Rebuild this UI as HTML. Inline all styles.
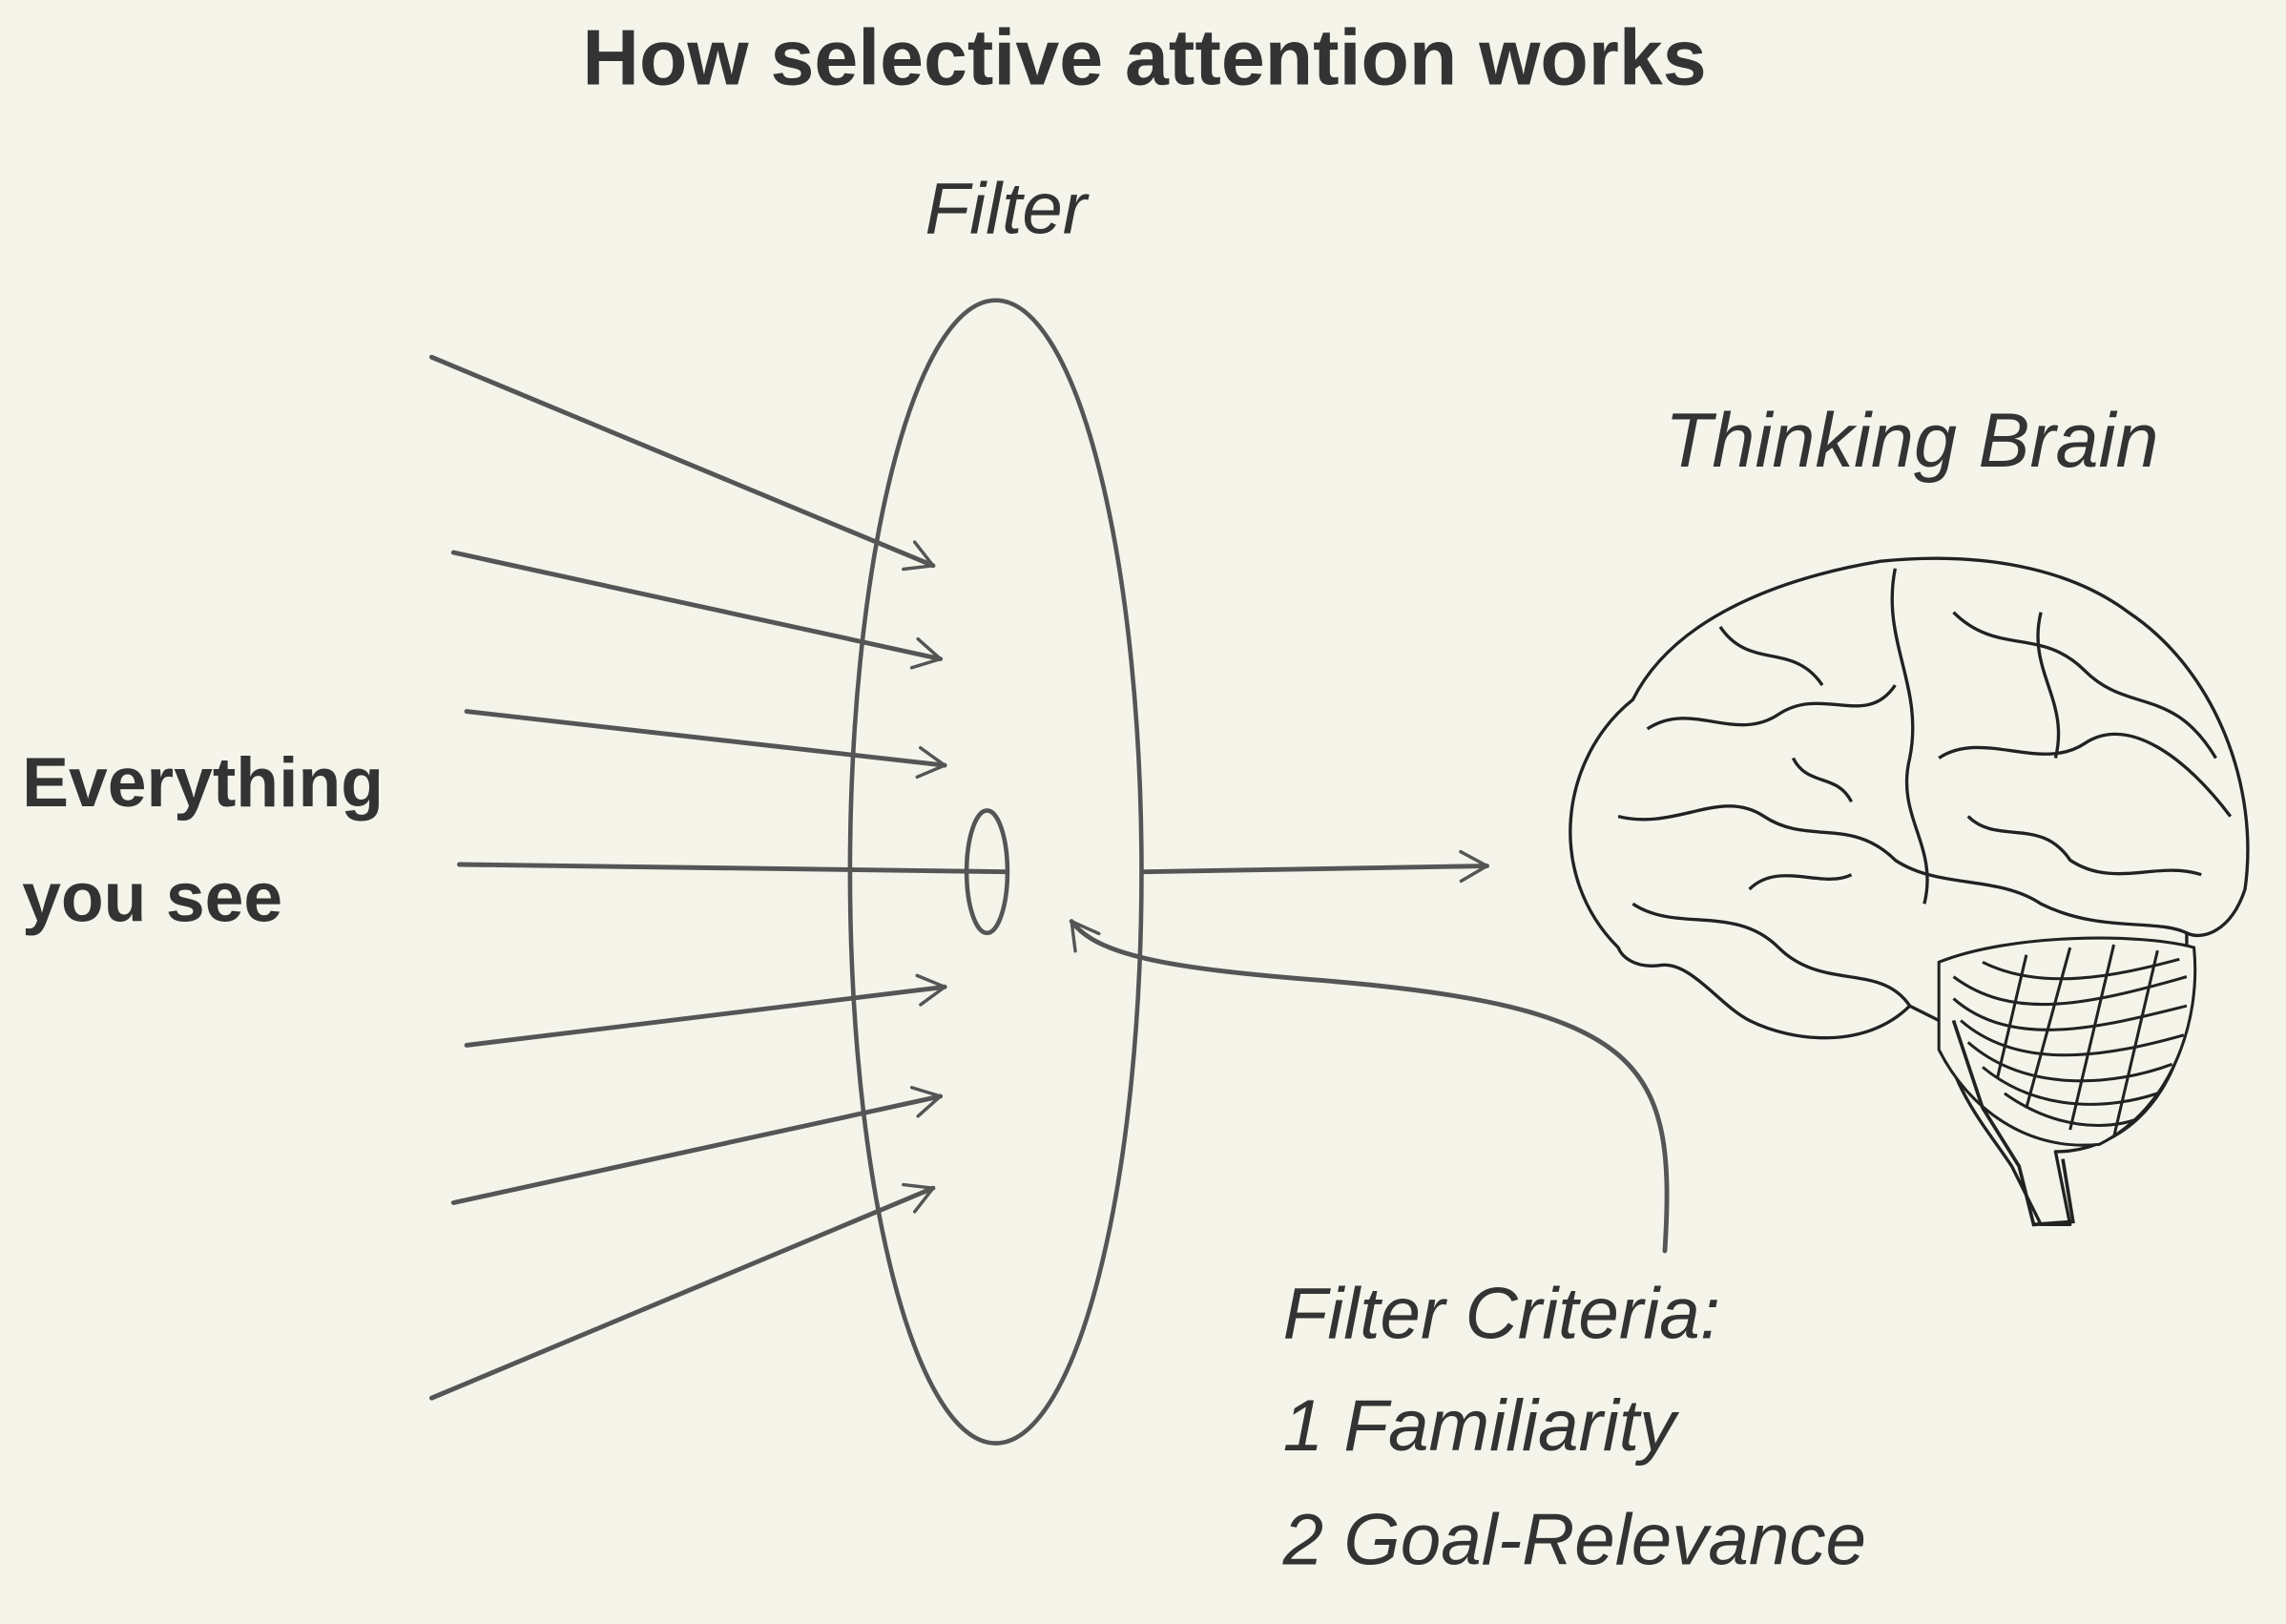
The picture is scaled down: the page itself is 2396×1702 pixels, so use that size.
<!DOCTYPE html>
<html><head><meta charset="utf-8"><style>
html,body{margin:0;padding:0;background:#f4f4eb;}
svg{display:block;}
text{font-family:"Liberation Sans",sans-serif;fill:#333;}
.hand{font-style:italic;font-weight:normal;}
</style></head><body>
<svg width="2396" height="1702" viewBox="0 0 1568 1114">
<defs>
<marker id="ah" viewBox="0 0 10 10" refX="9" refY="5" markerWidth="7" markerHeight="7" orient="auto" overflow="visible">
<path d="M1,0.5 L9,5 L1,9.5" fill="none" stroke="#555" stroke-width="1" stroke-linecap="round" stroke-linejoin="round"/>
</marker>
</defs>
<rect width="1568" height="1114" fill="#f4f4eb"/>
<text x="785" y="58" text-anchor="middle" font-size="54" font-weight="bold">How selective attention works</text>
<text x="690" y="160" text-anchor="middle" font-size="50" class="hand">Filter</text>
<ellipse cx="683" cy="598" rx="100" ry="392" fill="none" stroke="#555" stroke-width="3"/>
<ellipse cx="677" cy="598" rx="14" ry="42" fill="none" stroke="#555" stroke-width="3"/>
<g stroke="#555" stroke-width="3.2" fill="none" stroke-linecap="round">
<line x1="296" y1="245" x2="640" y2="388" marker-end="url(#ah)"/>
<line x1="311" y1="379" x2="645" y2="452" marker-end="url(#ah)"/>
<line x1="320" y1="488" x2="648" y2="525" marker-end="url(#ah)"/>
<line x1="315" y1="593" x2="690" y2="598"/>
<line x1="320" y1="717" x2="648" y2="677" marker-end="url(#ah)"/>
<line x1="311" y1="825" x2="645" y2="752" marker-end="url(#ah)"/>
<line x1="296" y1="959" x2="640" y2="815" marker-end="url(#ah)"/>
<line x1="785" y1="598" x2="1020" y2="594" marker-end="url(#ah)"/>
<path d="M1142,858 C1150,730 1130,690 900,672 C800,664 752,655 735,632" marker-end="url(#ah)"/>
</g>
<text x="15" y="553" font-size="48" font-weight="bold">Everything</text>
<text x="15" y="632" font-size="48" font-weight="bold">you see</text>
<text x="1142" y="320" font-size="53" class="hand">Thinking Brain</text>
<text x="880" y="918" font-size="50" class="hand">Filter Criteria:</text>
<text x="880" y="995" font-size="50" class="hand">1 Familiarity</text>
<text x="880" y="1073" font-size="50" class="hand">2 Goal-Relevance</text>
<g fill="none" stroke="#222" stroke-width="2.2" stroke-linejoin="round">
<path d="M1110,650 C1060,600 1070,520 1120,480 C1150,420 1230,395 1290,385 C1360,378 1420,390 1460,420 C1520,460 1550,540 1540,610 C1530,640 1510,645 1500,640 L1500,700 C1490,760 1450,790 1410,790 L1420,840 L1400,840 L1380,800 C1360,770 1340,750 1330,700 L1310,690 C1280,720 1230,715 1200,700 C1180,690 1160,660 1140,662 C1120,665 1112,655 1110,650 Z" fill="#f4f4eb"/>
<path d="M1300,390 C1290,440 1320,470 1310,520 C1300,560 1330,580 1320,620"/>
<path d="M1110,560 C1150,570 1180,540 1210,560 C1240,580 1270,560 1300,590 C1330,610 1370,600 1400,620 C1440,640 1480,630 1500,640"/>
<path d="M1130,500 C1160,480 1190,510 1220,490 C1250,470 1280,500 1300,470"/>
<path d="M1340,420 C1370,450 1400,430 1430,460 C1460,490 1490,470 1520,520"/>
<path d="M1330,520 C1360,500 1400,530 1430,510 C1460,490 1500,520 1530,560"/>
<path d="M1180,430 C1200,460 1230,440 1250,470"/>
<path d="M1120,620 C1150,640 1190,620 1220,650 C1250,680 1290,660 1310,690"/>
<path d="M1350,560 C1370,580 1400,560 1420,590 C1450,610 1480,590 1510,600"/>
<path d="M1200,610 C1220,590 1250,610 1270,600"/>
<path d="M1400,420 C1390,460 1420,480 1410,520"/>
<path d="M1230,520 C1240,540 1260,530 1270,550"/>
</g>
<g stroke="#222" stroke-width="2" fill="none">
<path d="M1330,660 C1380,640 1470,640 1505,650 C1510,700 1490,760 1440,785 C1390,790 1350,760 1330,720 Z" fill="#f4f4eb"/>
<path d="M1340,670 C1380,700 1430,690 1500,670"/>
<path d="M1340,685 C1380,720 1440,705 1500,690"/>
<path d="M1345,700 C1385,735 1445,725 1498,710"/>
<path d="M1350,715 C1390,750 1450,745 1490,730"/>
<path d="M1360,732 C1400,765 1450,760 1480,750"/>
<path d="M1375,750 C1410,775 1445,775 1465,768"/>
<path d="M1360,660 C1400,680 1450,670 1495,658"/>
<path d="M1420,650 L1390,760 M1450,648 L1420,775 M1480,652 L1450,780 M1390,655 L1370,740"/>
<path d="M1340,700 L1360,760 L1385,800 L1395,840 L1422,838 L1415,795" stroke-width="2.4"/>
</g>
</svg>
</body></html>
